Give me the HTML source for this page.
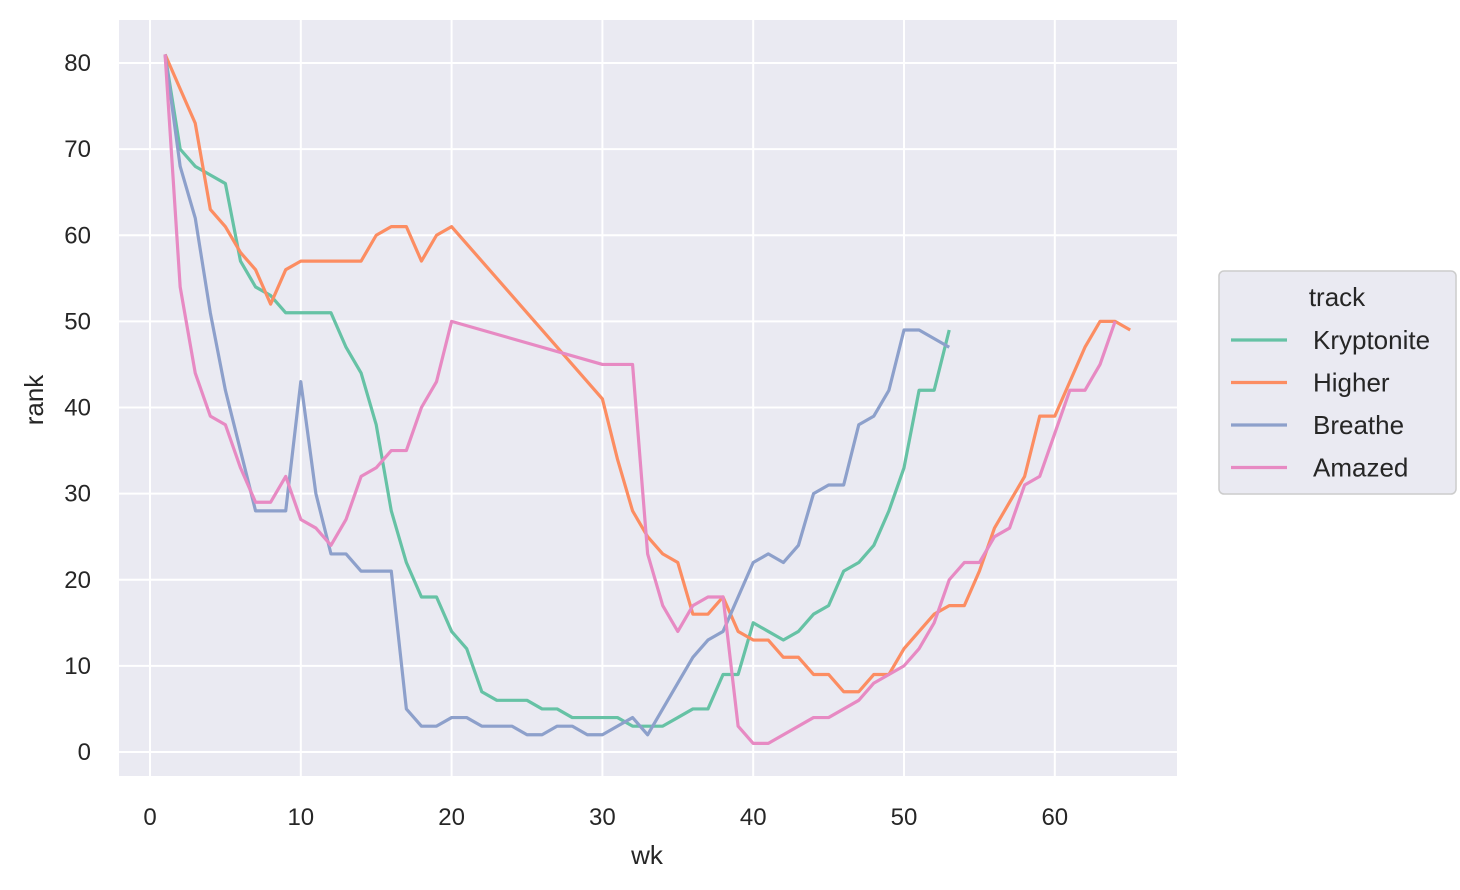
<!DOCTYPE html>
<html><head><meta charset="utf-8"><style>
body{margin:0;background:#fff;}
svg{display:block;font-family:"Liberation Sans","DejaVu Sans",sans-serif;}
</style></head><body>
<svg id="chart" width="1460" height="890">
<rect x="119" y="20" width="1058" height="756" fill="#eaeaf2"/>
<g id="grid"></g><g id="lines"></g><g id="ticks"></g>
<text x="647" y="864" font-size="26" fill="#262626" text-anchor="middle">wk</text>
<text transform="translate(43,400) rotate(-90)" font-size="26" fill="#262626" text-anchor="middle">rank</text>
<g>
<rect x="1219" y="271" width="237" height="223" rx="5" fill="#eaeaf2" stroke="#cccccc" stroke-width="1.5"/>
<text x="1337" y="306" font-size="26" fill="#262626" text-anchor="middle">track</text>
<g id="legend-items"></g>
</g>
</svg>
<script>
const names=["Kryptonite","Higher","Breathe","Amazed"];
const colors=["#66c2a5","#fc8d62","#8da0cb","#e78ac3"];
const krWk=[1,2,3,4,5,6,7,8,9,10,11,12,13,14,15,16,17,18,19,20,21,22,23,24,25,26,27,28,29,30,31,32,33,34,35,36,37,38,39,40,41,42,43,44,45,46,47,48,49,50,51,52,53];
const krRank=[81,70,68,67,66,57,54,53,51,51,51,51,47,44,38,28,22,18,18,14,12,7,6,6,6,5,5,4,4,4,4,3,3,3,4,5,5,9,9,15,14,13,14,16,17,21,22,24,28,33,42,42,49];
const hiWk=[1,2,3,4,5,6,7,8,9,10,11,12,13,14,15,16,17,18,19,20,30,31,32,33,34,35,36,37,38,39,40,41,42,43,44,45,46,47,48,49,50,51,52,53,54,55,56,57,58,59,60,61,62,63,64,65];
const hiRank=[81,77,73,63,61,58,56,52,56,57,57,57,57,57,60,61,61,57,60,61,41,34,28,25,23,22,16,16,18,14,13,13,11,11,9,9,7,7,9,9,12,14,16,17,17,21,26,29,32,39,39,43,47,50,50,49];
const brWk=[1,2,3,4,5,6,7,8,9,10,11,12,13,14,15,16,17,18,19,20,21,22,23,24,25,26,27,28,29,30,31,32,33,34,35,36,37,38,39,40,41,42,43,44,45,46,47,48,49,50,51,52,53];
const brRank=[81,68,62,51,42,35,28,28,28,43,30,23,23,21,21,21,5,3,3,4,4,3,3,3,2,2,3,3,2,2,3,4,2,5,8,11,13,14,18,22,23,22,24,30,31,31,38,39,42,49,49,48,47];
const amWk=[1,2,3,4,5,6,7,8,9,10,11,12,13,14,15,16,17,18,19,20,30,31,32,33,34,35,36,37,38,39,40,41,44,45,46,47,48,49,50,51,52,53,54,55,56,57,58,59,60,61,62,63,64];
const amRank=[81,54,44,39,38,33,29,29,32,27,26,24,27,32,33,35,35,40,43,50,45,45,45,23,17,14,17,18,18,3,1,1,4,4,5,6,8,9,10,12,15,20,22,22,25,26,31,32,37,42,42,45,50];
const xTicks=[0,10,20,30,40,50,60];
const yTicks=[0,10,20,30,40,50,60,70,80];
const weeks=[krWk,hiWk,brWk,amWk], ranks=[krRank,hiRank,brRank,amRank];
const X=v=>150+v*15.08, Y=v=>752-v*8.6125;
const NS="http://www.w3.org/2000/svg";
const mk=(t,a,p)=>{const e=document.createElementNS(NS,t);for(const k in a)e.setAttribute(k,a[k]);p.appendChild(e);return e;};
const grid=document.getElementById('grid'),ticks=document.getElementById('ticks'),lines=document.getElementById('lines'),leg=document.getElementById('legend-items');
xTicks.forEach(v=>{
 const l=mk('line',{x1:X(v),x2:X(v),y1:20,y2:776,stroke:'#fff','stroke-width':2},grid);
 
 
 const t=mk('text',{x:X(v),y:825,'font-size':24,fill:'#262626','text-anchor':'middle'},ticks);t.textContent=v;
 
 
});
yTicks.forEach(v=>{
 const l=mk('line',{x1:119,x2:1177,y1:Y(v),y2:Y(v),stroke:'#fff','stroke-width':2},grid);
 
 
 const t=mk('text',{x:91,y:Y(v)+8,'font-size':24,fill:'#262626','text-anchor':'end'},ticks);t.textContent=v;
 
 
});
names.forEach((n,i)=>{
 const pts=weeks[i].map((w,j)=>X(w)+','+Y(ranks[i][j])).join(' ');
 const p=mk('polyline',{points:pts,fill:'none',stroke:colors[i],'stroke-width':3.2,'stroke-linejoin':'round'},lines);
 
 
 const y=340+i*42.5;
 const l=mk('line',{x1:1231,x2:1287,y1:y,y2:y,stroke:colors[i],'stroke-width':3.2},leg);
 
 
 const t=mk('text',{x:1313,y:y+9,'font-size':26,fill:'#262626'},leg);t.textContent=n;
 
 
});
</script>
</body></html>
